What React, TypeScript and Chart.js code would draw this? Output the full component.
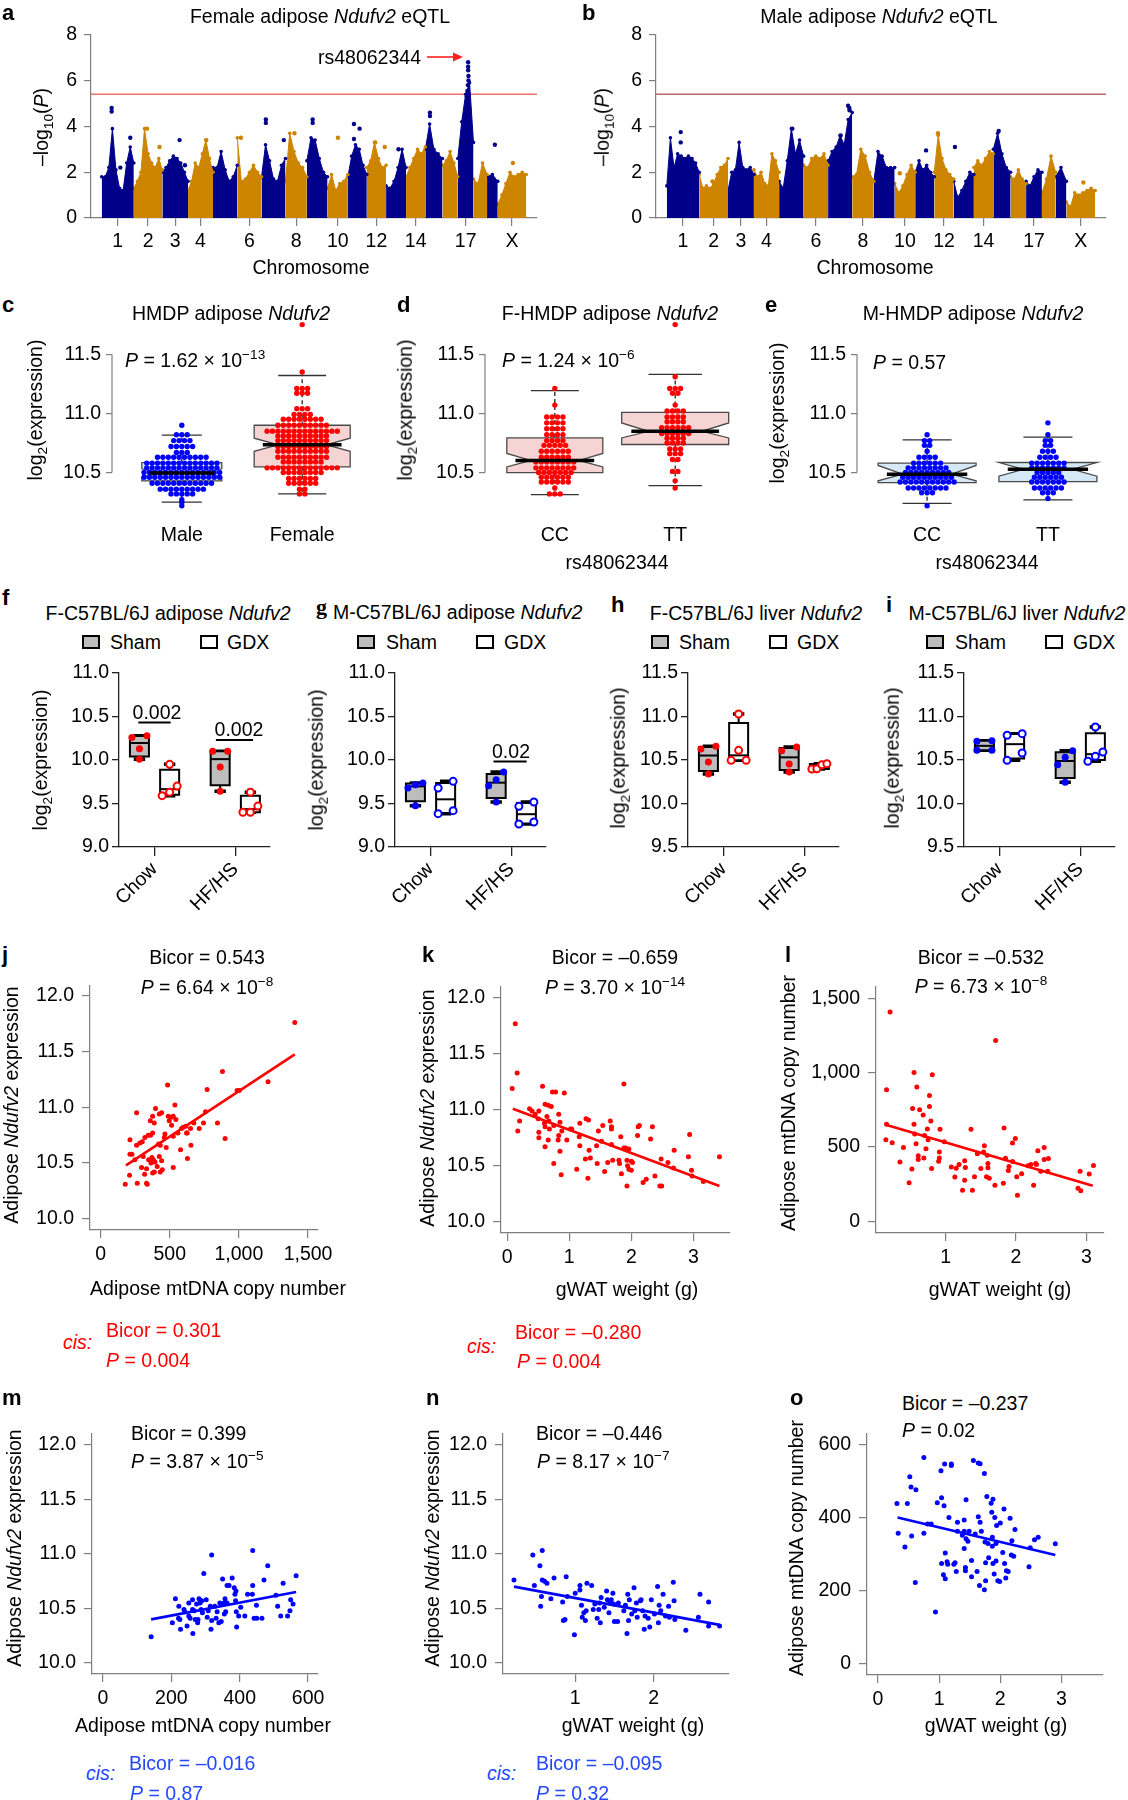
import React, { useEffect, useRef } from 'react';
import { Chart, registerables } from 'chart.js';

Chart.register(...registerables);

const FONT = '"Liberation Sans", Arial, Helvetica, sans-serif';
const SERIF = '"Liberation Serif", "Times New Roman", serif';
const FS = 19.5;
const NAVY = '#00008b';
const GOLD = '#cd8500';
const RED = '#ff0000';
const BLUE = '#0000ff';
const CIS_BLUE = '#2448ff';
const GREY_AX = '#7f7f7f';
const DARK_AX = '#222222';

// ================= a / b : eQTL Manhattan =================
const chromosomes = ['1', '2', '3', '4', '5', '6', '7', '8', '9', '10', '11', '12', '13', '14', '15', '16', '17', '18', '19', 'X'];
const chrSpan = [90, 80, 72, 70, 68, 68, 67, 60, 58, 57, 53, 54, 56, 54, 48, 43, 44, 38, 30, 80];
const chrLabelled = ['1', '2', '3', '4', '6', '8', '10', '12', '14', '17', 'X'];
const eqtlYTicks = [0, 2, 4, 6, 8];
const eqtlThreshold = 5.4;

const femaleEnvelope = [
  [1.8, 1.8, 2.2, 3.9, 2.1, 1.3, 1.2, 2.4, 3.1, 2.4],
  [1.3, 1.6, 2.0, 3.9, 2.8, 2.4, 2.2, 2.6, 2.1],
  [2.0, 2.2, 2.5, 2.7, 2.6, 2.4, 2.0, 1.6],
  [1.2, 1.6, 2.4, 2.2, 2.8, 3.4, 2.6, 2.0],
  [2.2, 2.2, 2.9, 2.1, 1.6, 1.8, 2.3],
  [3.5, 1.6, 1.7, 2.0, 2.3, 2.0, 1.8],
  [1.8, 3.2, 2.5, 1.7, 1.6, 2.3, 2.6],
  [1.6, 3.7, 2.9, 2.4, 2.2, 1.8],
  [2.5, 3.5, 3.4, 2.6, 2.0, 1.8],
  [1.3, 1.9, 1.2, 1.5, 1.6, 1.9],
  [1.8, 2.7, 3.2, 3.0, 2.3, 1.9],
  [2.2, 2.5, 3.3, 2.6, 2.2, 2.3],
  [1.4, 1.3, 1.6, 2.2, 3.0, 2.2],
  [1.8, 2.2, 2.6, 3.0, 2.8, 3.1],
  [3.0, 4.1, 3.0, 2.8, 2.6],
  [2.3, 2.5, 2.9, 2.4, 1.8],
  [2.6, 4.2, 5.4, 5.9, 3.3],
  [1.7, 1.5, 2.4, 1.9],
  [1.8, 1.9, 1.6],
  [0.6, 1.0, 1.5, 2.0, 1.8, 1.9, 2.0, 1.9],
];
// [chromosome index, position within chromosome (0-1), -log10 P]
const femaleSpikes = [
  [0, 0.31, 4.8], [0, 0.31, 4.65], [0, 0.58, 2.2], [0, 0.89, 3.5],
  [1, 0.46, 3.9], [1, 0.9, 3.1], [2, 0.67, 3.4], [2, 0.88, 2.3], [3, 0.73, 3.4],
  [5, 0.15, 3.5], [6, 0.18, 4.3], [6, 0.18, 4.15], [6, 0.93, 3.4], [7, 0.42, 3.7],
  [8, 0.28, 4.3], [8, 0.28, 4.15], [9, 0.51, 3.5], [10, 0.32, 4.1], [10, 0.62, 3.9],
  [10, 0.32, 3.45], [11, 0.44, 3.3], [11, 0.93, 3.1], [12, 0.62, 3.0],
  [14, 0.27, 4.6], [14, 0.27, 4.45],
  [16, 0.66, 6.8], [16, 0.66, 6.6], [16, 0.66, 6.45], [16, 0.68, 6.2], [16, 0.68, 6.0],
  [16, 0.64, 5.8], [16, 0.61, 5.55], [16, 0.57, 5.3],
  [18, 0.73, 3.2], [19, 0.53, 2.4],
];
const maleEnvelope = [
  [1.4, 3.5, 2.2, 2.8, 2.7, 2.6, 2.7, 2.6, 2.4, 2.0],
  [1.9, 1.3, 1.4, 1.3, 1.5, 1.9, 2.2, 2.3, 2.6],
  [1.2, 2.0, 2.1, 3.3, 2.2, 2.1, 2.2, 1.9],
  [2.1, 1.8, 2.0, 1.5, 1.4, 2.8, 2.5, 2.0],
  [1.6, 1.3, 2.5, 3.9, 2.8, 3.4, 2.7],
  [2.3, 2.2, 2.6, 2.7, 2.6, 2.8, 2.3],
  [2.5, 2.9, 3.1, 3.6, 3.2, 4.3, 4.6],
  [1.8, 1.9, 3.0, 2.7, 2.0, 1.6],
  [1.6, 2.9, 2.7, 2.2, 2.2, 2.2],
  [1.5, 1.1, 1.4, 1.9, 2.3, 2.0],
  [2.0, 2.5, 2.1, 2.3, 2.0, 1.8],
  [2.0, 3.6, 2.6, 2.1, 1.9, 1.7],
  [1.6, 0.9, 1.2, 1.6, 2.0, 1.9],
  [2.2, 2.5, 2.3, 2.6, 2.9, 2.8],
  [3.0, 3.7, 2.8, 2.2, 2.0],
  [1.8, 1.7, 2.1, 1.7, 1.5],
  [1.6, 1.4, 1.8, 2.1, 2.0],
  [1.1, 1.7, 2.7, 2.0],
  [1.8, 2.2, 1.6],
  [0.7, 0.5, 1.1, 1.0, 1.1, 1.2, 1.3, 1.2],
];
const maleSpikes = [
  [0, 0.43, 3.75], [0, 0.43, 3.3], [1, 0.46, 1.6], [4, 0.54, 3.9],
  [6, 0.83, 4.9], [6, 0.88, 4.8], [6, 0.89, 4.7], [6, 0.52, 3.6],
  [9, 0.25, 1.95], [10, 0.57, 2.95], [11, 0.19, 3.7], [12, 0.06, 3.1],
  [14, 0.31, 3.8], [19, 0.59, 1.55],
];

// ================= c / d / e : swarm box plots =================
// box stats: [lower whisker, Q1, notch low, median, notch high, Q3, upper whisker]
const exprTicks = [10.5, 11.0, 11.5];
const cLabels = ['Male', 'Female'];
const cMaleLevels = [10.90, 10.82, 10.77, 10.72, 10.67, 10.63, 10.58, 10.54, 10.50, 10.46, 10.41, 10.36, 10.32, 10.27, 10.25, 10.22];
const cMaleCounts = [1, 3, 4, 5, 3, 10, 14, 14, 15, 15, 12, 9, 5, 1, 1, 1];
const cFemaleLevels = [11.75, 11.35, 11.21, 11.17, 11.04, 10.99, 10.95, 10.90, 10.85, 10.81, 10.77, 10.72, 10.68, 10.63, 10.59, 10.54, 10.50, 10.45, 10.41, 10.36, 10.32];
const cFemaleCounts = [1, 1, 3, 3, 3, 4, 8, 10, 14, 10, 10, 10, 10, 10, 8, 14, 8, 6, 6, 2, 2];
const cMaleBox = [10.25, 10.43, 10.462, 10.497, 10.532, 10.584, 10.817];
const cFemaleBox = [10.32, 10.548, 10.68, 10.735, 10.79, 10.90, 11.32];

const genoLabels = ['CC', 'TT'];
const dCCLevels = [11.21, 11.07, 10.97, 10.92, 10.87, 10.82, 10.77, 10.73, 10.68, 10.63, 10.59, 10.54, 10.50, 10.46, 10.42, 10.37, 10.32];
const dCCCounts = [1, 1, 4, 4, 4, 4, 4, 5, 6, 6, 8, 8, 7, 6, 6, 1, 3];
const dTTLevels = [11.75, 11.31, 11.21, 11.17, 11.07, 11.02, 10.97, 10.93, 10.88, 10.83, 10.79, 10.75, 10.70, 10.66, 10.61, 10.51, 10.43, 10.37];
const dTTCounts = [1, 1, 3, 2, 1, 4, 4, 4, 6, 6, 4, 4, 3, 3, 2, 2, 1, 1];
const dCCBox = [10.313, 10.50, 10.548, 10.603, 10.662, 10.793, 11.193];
const dTTBox = [10.39, 10.737, 10.793, 10.849, 10.919, 11.008, 11.33];

const eCCLevels = [10.82, 10.77, 10.73, 10.68, 10.63, 10.58, 10.54, 10.50, 10.46, 10.42, 10.37, 10.33, 10.22];
const eCCCounts = [1, 2, 2, 1, 4, 6, 8, 9, 10, 11, 8, 3, 1];
const eTTLevels = [10.92, 10.82, 10.77, 10.73, 10.68, 10.63, 10.58, 10.54, 10.50, 10.46, 10.42, 10.37, 10.33, 10.28];
const eTTCounts = [1, 1, 2, 2, 3, 4, 7, 7, 5, 6, 7, 6, 3, 1];
const eCCBox = [10.24, 10.415, 10.43, 10.486, 10.56, 10.579, 10.776];
const eTTBox = [10.27, 10.424, 10.47, 10.528, 10.585, 10.585, 10.80];

// ================= f - i : Sham vs GDX =================
const dietLabels = ['Chow', 'HF/HS'];
const adiposeTicks = [9.0, 9.5, 10.0, 10.5, 11.0];
const liverTicks = [9.5, 10.0, 10.5, 11.0, 11.5];
const fChowSham = [10.01, 10.13, 10.26, 10.28];
const fChowGdx = [9.59, 9.63, 9.70, 9.95];
const fHfSham = [9.64, 9.92, 10.10, 10.10];
const fHfGdx = [9.40, 9.40, 9.47, 9.63];
const gChowSham = [9.475, 9.678, 9.716, 9.736];
const gChowGdx = [9.383, 9.418, 9.678, 9.755];
const gHfSham = [9.517, 9.705, 9.774, 9.862];
const gHfGdx = [9.264, 9.287, 9.467, 9.517];
const hChowSham = [10.339, 10.477, 10.626, 10.657];
const hChowGdx = [10.496, 10.496, 10.611, 11.029];
const hHfSham = [10.362, 10.454, 10.607, 10.649];
const hHfGdx = [10.397, 10.40, 10.446, 10.458];
const iChowSham = [10.611, 10.611, 10.715, 10.722];
const iChowGdx = [10.496, 10.58, 10.784, 10.803];
const iHfSham = [10.243, 10.446, 10.531, 10.607];
const iHfGdx = [10.485, 10.542, 10.592, 10.879];
// significance bars: [x from, x to, y]
const fSigBars = [[0.80, 1.20, 10.43], [1.76, 2.22, 10.23]];
const gSigBars = [[1.78, 2.19, 9.984]];

// ================= j - o : correlations =================
const exprTicksWide = [10.0, 10.5, 11.0, 11.5, 12.0];
const copyTicksJ = [0, 500, 1000, 1500];
const weightTicks = [0, 1, 2, 3];
const weightTicksL = [1, 2, 3];
const weightTicksN = [1, 2];
const copyTicksL = [0, 500, 1000, 1500];
const copyTicksM = [0, 200, 400, 600];

const jPoints = [[1404, 11.76], [881, 11.32], [1211, 11.23], [987, 11.15], [1002, 11.15], [770, 11.16], [484, 11.20], [537, 11.02], [260, 10.95], [397, 10.99], [424, 10.94], [441, 10.95], [376, 10.92], [359, 10.88], [388, 10.86], [489, 10.92], [508, 10.91], [525, 10.92], [544, 10.89], [496, 10.88], [513, 10.84], [758, 10.96], [744, 10.86], [845, 10.86], [674, 10.86], [616, 10.83], [585, 10.81], [597, 10.82], [650, 10.81], [713, 10.81], [621, 10.77], [559, 10.77], [525, 10.74], [465, 10.76], [460, 10.73], [376, 10.77], [361, 10.75], [344, 10.75], [320, 10.73], [301, 10.69], [284, 10.68], [260, 10.66], [212, 10.71], [900, 10.72], [653, 10.66], [578, 10.62], [626, 10.77], [419, 10.67], [431, 10.66], [474, 10.64], [212, 10.58], [226, 10.58], [248, 10.53], [308, 10.56], [371, 10.55], [381, 10.53], [347, 10.53], [393, 10.51], [364, 10.50], [424, 10.56], [441, 10.52], [628, 10.54], [296, 10.46], [332, 10.45], [409, 10.47], [525, 10.46], [209, 10.39], [318, 10.40], [376, 10.41], [388, 10.42], [431, 10.42], [446, 10.44], [178, 10.31], [265, 10.32], [332, 10.32], [337, 10.31]];
const jFit = [[183, 10.48], [1404, 11.475]];

const kPoints = [[0.13, 11.77], [0.16, 11.33], [0.08, 11.19], [0.57, 11.21], [0.73, 11.16], [0.78, 11.16], [0.92, 11.15], [1.88, 11.23], [0.17, 10.81], [0.20, 10.90], [0.36, 11.01], [0.40, 10.99], [0.45, 10.96], [0.50, 10.92], [0.51, 10.99], [0.61, 11.05], [0.66, 11.04], [0.71, 11.03], [0.64, 10.94], [0.67, 10.90], [0.60, 10.88], [0.61, 10.85], [0.68, 10.83], [0.75, 10.86], [0.83, 10.96], [0.85, 10.89], [0.51, 10.80], [0.51, 10.75], [0.66, 10.73], [0.61, 10.67], [0.75, 10.52], [0.82, 10.73], [0.83, 10.77], [0.88, 10.81], [0.96, 10.73], [0.85, 10.63], [0.87, 10.42], [1.02, 10.83], [1.04, 10.83], [1.17, 10.88], [1.16, 10.76], [1.17, 10.68], [1.12, 10.47], [1.27, 10.92], [1.31, 10.91], [1.32, 10.64], [1.26, 10.56], [1.34, 10.57], [1.30, 10.39], [1.44, 10.68], [1.45, 10.52], [1.47, 10.81], [1.54, 10.86], [1.52, 10.72], [1.57, 10.45], [1.62, 10.53], [1.66, 10.90], [1.68, 10.85], [1.68, 10.83], [1.68, 10.69], [1.70, 10.55], [1.80, 10.55], [1.81, 10.52], [1.83, 10.76], [1.84, 10.43], [1.88, 10.66], [1.91, 10.66], [1.96, 10.65], [1.93, 10.55], [1.94, 10.50], [1.93, 10.32], [1.96, 10.47], [2.00, 10.46], [2.00, 10.54], [2.02, 10.53], [2.10, 10.77], [2.11, 10.85], [2.13, 10.86], [2.31, 10.74], [2.34, 10.85], [2.19, 10.35], [2.24, 10.38], [2.38, 10.41], [2.46, 10.32], [2.49, 10.32], [2.48, 10.56], [2.59, 10.53], [2.68, 10.48], [2.69, 10.64], [2.92, 10.58], [2.94, 10.78], [2.97, 10.46], [2.98, 10.41], [3.16, 10.36], [3.42, 10.58]];
const kFit = [[0.09, 11.01], [3.42, 10.32]];

const lPoints = [[0.21, 1407], [1.71, 1215], [0.16, 885], [0.55, 1000], [0.81, 985], [0.59, 903], [0.77, 847], [0.77, 772], [0.53, 759], [0.63, 750], [0.68, 715], [0.79, 675], [0.16, 653], [0.55, 653], [0.92, 619], [0.74, 622], [1.36, 619], [1.83, 628], [0.56, 588], [0.70, 577], [0.75, 549], [0.98, 535], [0.15, 549], [0.24, 529], [0.58, 522], [0.72, 489], [0.40, 498], [0.91, 467], [0.91, 427], [0.90, 405], [0.61, 442], [0.61, 416], [0.69, 427], [0.35, 400], [0.52, 352], [0.80, 356], [0.48, 261], [1.08, 367], [1.15, 358], [1.19, 383], [1.27, 409], [1.28, 363], [1.13, 299], [1.27, 277], [1.24, 210], [1.38, 210], [1.41, 301], [1.45, 456], [1.50, 356], [1.55, 509], [1.54, 467], [1.59, 445], [1.60, 389], [1.60, 361], [1.58, 301], [1.62, 290], [1.70, 243], [1.82, 257], [1.85, 425], [1.89, 343], [1.90, 369], [1.95, 403], [1.95, 527], [1.99, 558], [2.01, 301], [2.02, 177], [2.08, 321], [2.17, 374], [2.21, 383], [2.25, 243], [2.28, 389], [2.29, 383], [2.31, 476], [2.35, 338], [2.40, 498], [2.40, 416], [2.46, 423], [2.45, 338], [2.88, 223], [2.92, 206], [2.91, 338], [3.04, 319], [3.10, 376]];
const lFit = [[0.16, 648], [3.09, 241]];

const mPoints = [[141, 10.24], [212, 10.59], [203, 10.37], [222, 10.52], [221, 10.41], [225, 10.40], [227, 10.31], [237, 10.49], [239, 10.47], [246, 10.34], [251, 10.55], [251, 10.43], [255, 10.41], [262, 10.58], [262, 10.49], [263, 10.27], [267, 10.48], [270, 10.40], [274, 10.54], [277, 10.37], [278, 10.40], [281, 10.59], [284, 10.55], [287, 10.49], [289, 10.57], [291, 10.46], [295, 10.82], [302, 10.58], [305, 10.42], [308, 10.48], [314, 10.52], [316, 10.31], [318, 10.99], [318, 10.39], [327, 10.52], [331, 10.41], [334, 10.47], [339, 10.37], [342, 10.55], [346, 10.38], [350, 10.77], [354, 10.55], [355, 10.45], [357, 10.59], [359, 10.47], [363, 10.71], [363, 10.55], [369, 10.71], [378, 10.78], [384, 10.69], [386, 10.63], [389, 10.66], [388, 10.57], [390, 10.47], [391, 10.33], [397, 10.43], [403, 10.51], [415, 10.43], [423, 10.63], [437, 10.63], [438, 11.03], [438, 10.71], [442, 10.41], [449, 10.53], [450, 10.41], [465, 10.41], [471, 10.76], [482, 10.89], [506, 10.62], [511, 10.52], [520, 10.43], [527, 10.73], [540, 10.43], [547, 10.48], [549, 10.58], [556, 10.54], [565, 10.80]];
const mFit = [[141, 10.40], [565, 10.65]];

const nPoints = [[0.22, 10.76], [0.46, 10.99], [0.58, 11.03], [0.55, 10.89], [0.48, 10.71], [0.58, 10.76], [0.61, 10.75], [0.64, 10.73], [0.73, 10.78], [0.57, 10.61], [0.56, 10.52], [0.69, 10.59], [0.84, 10.56], [0.85, 10.39], [0.885, 10.79], [0.90, 10.61], [0.87, 10.40], [0.99, 10.26], [1.00, 10.64], [1.06, 10.67], [1.06, 10.71], [1.08, 10.53], [1.11, 10.46], [1.13, 10.39], [1.15, 10.73], [1.21, 10.71], [1.09, 10.42], [1.14, 10.48], [1.23, 10.49], [1.25, 10.54], [1.28, 10.41], [1.30, 10.49], [1.31, 10.55], [1.32, 10.37], [1.33, 10.60], [1.37, 10.51], [1.40, 10.66], [1.41, 10.58], [1.43, 10.46], [1.44, 10.55], [1.46, 10.58], [1.48, 10.64], [1.49, 10.54], [1.50, 10.38], [1.54, 10.38], [1.55, 10.55], [1.62, 10.48], [1.64, 10.53], [1.66, 10.27], [1.67, 10.63], [1.68, 10.39], [1.69, 10.58], [1.72, 10.45], [1.75, 10.69], [1.76, 10.48], [1.78, 10.55], [1.79, 10.42], [1.83, 10.57], [1.84, 10.58], [1.86, 10.48], [1.88, 10.31], [1.89, 10.43], [1.93, 10.41], [1.95, 10.33], [1.97, 10.58], [2.01, 10.45], [2.05, 10.70], [2.06, 10.37], [2.07, 10.53], [2.09, 10.48], [2.12, 10.63], [2.15, 10.43], [2.19, 10.52], [2.20, 10.42], [2.25, 10.74], [2.26, 10.57], [2.27, 10.40], [2.41, 10.30], [2.57, 10.42], [2.59, 10.63], [2.70, 10.34], [2.70, 10.56], [2.84, 10.34]];
const nFit = [[0.22, 10.70], [2.84, 10.35]];

const oPoints = [[0.75, 564], [0.94, 141], [0.31, 438], [0.33, 357], [0.44, 319], [0.48, 438], [0.52, 511], [0.54, 483], [0.55, 349], [0.61, 222], [0.62, 476], [0.75, 357], [0.81, 382], [0.87, 382], [0.97, 440], [1.03, 528], [1.04, 454], [1.08, 432], [1.09, 546], [1.10, 303], [1.04, 274], [1.07, 243], [1.10, 232], [1.13, 279], [1.14, 272], [1.16, 400], [1.20, 546], [1.20, 542], [1.24, 272], [1.26, 276], [1.28, 252], [1.30, 387], [1.30, 362], [1.38, 351], [1.41, 362], [1.41, 315], [1.41, 393], [1.43, 263], [1.43, 254], [1.44, 448], [1.44, 342], [1.47, 335], [1.49, 362], [1.53, 238], [1.53, 282], [1.56, 556], [1.59, 355], [1.62, 252], [1.64, 549], [1.64, 402], [1.67, 547], [1.67, 387], [1.69, 362], [1.66, 214], [1.74, 520], [1.75, 333], [1.76, 276], [1.76, 227], [1.74, 202], [1.78, 457], [1.80, 329], [1.81, 290], [1.85, 439], [1.86, 414], [1.87, 346], [1.88, 450], [1.87, 321], [1.88, 274], [1.90, 245], [1.91, 400], [1.93, 281], [1.93, 329], [1.94, 378], [1.96, 227], [1.99, 225], [2.00, 385], [2.04, 304], [2.06, 423], [2.07, 274], [2.09, 234], [2.10, 254], [2.13, 252], [2.16, 398], [2.18, 297], [2.22, 294], [2.24, 367], [2.19, 336], [2.47, 265], [2.49, 317], [2.56, 339], [2.62, 346], [2.90, 328]];
const oFit = [[0.32, 400], [2.90, 297]];

// ================= helpers =================
const START: number[] = (() => { let s = 0; return chrSpan.map((w) => { const st = s; s += w; return st; }); })();
const TOTAL = chrSpan.reduce((a, b) => a + b, 0);

type Area = { l: number; t: number; r: number; b: number };

function mkScale(axis: string, o: any) {
  const col = o.color || GREY_AX;
  return {
    type: 'linear',
    min: o.min,
    max: o.max,
    afterBuildTicks: (s: any) => { s.ticks = o.ticks.map((v: number) => ({ value: v })); },
    afterFit: (s: any) => { if (axis === 'y') s.width = o.fit; else s.height = o.fit; },
    grid: { display: o.tl > 0, drawOnChartArea: false, drawTicks: o.tl > 0, tickLength: o.tl, color: col, lineWidth: o.lw || 1.2 },
    border: { display: !!o.border, color: col, width: o.lw || 1.2 },
    ticks: {
      autoSkip: false,
      padding: o.pad,
      color: '#000',
      maxRotation: o.rot || 0,
      minRotation: o.rot || 0,
      font: { family: FONT, size: FS },
      callback: (v: number, i: number) => (o.labels ? o.labels[i] : o.fmt ? o.fmt(v) : String(v)),
    },
  };
}

function baseCfg(datasets: any[], xs: any, ys: any, mt: number, mr: number, plugins: any[] = []) {
  return {
    type: 'line',
    data: { datasets },
    options: {
      responsive: false,
      animation: false,
      events: [],
      devicePixelRatio: 1,
      layout: { padding: { left: 0, top: mt, right: mr, bottom: 0 } },
      plugins: { legend: { display: false }, tooltip: { enabled: false }, title: { display: false } },
      scales: { x: xs, y: ys },
    },
    plugins,
  };
}

function boxPlugin(items: any[]) {
  return {
    id: 'boxes',
    beforeDatasetsDraw(chart: any) {
      const { ctx } = chart;
      const xs = chart.scales.x;
      const ys = chart.scales.y;
      ctx.save();
      for (const b of items) {
        const cx = xs.getPixelForValue(b.x);
        const hw = b.wpx / 2;
        const [lo, q1, nlo, med, nhi, q3, hi] = b.stats.map((v: number) => ys.getPixelForValue(v));
        ctx.strokeStyle = b.whiskColor;
        ctx.lineWidth = b.whiskLw;
        ctx.setLineDash(b.dash || []);
        ctx.beginPath();
        ctx.moveTo(cx, q3); ctx.lineTo(cx, hi);
        ctx.moveTo(cx, q1); ctx.lineTo(cx, lo);
        ctx.stroke();
        ctx.setLineDash([]);
        ctx.strokeStyle = b.capColor;
        ctx.lineWidth = b.capLw;
        const cw = b.wpx * b.capFrac / 2;
        ctx.beginPath();
        ctx.moveTo(cx - cw, hi); ctx.lineTo(cx + cw, hi);
        ctx.moveTo(cx - cw, lo); ctx.lineTo(cx + cw, lo);
        ctx.stroke();
        ctx.beginPath();
        if (b.notch) {
          const ni = hw / 2;
          ctx.moveTo(cx - hw, q1); ctx.lineTo(cx - hw, nlo); ctx.lineTo(cx - hw + ni, med); ctx.lineTo(cx - hw, nhi); ctx.lineTo(cx - hw, q3);
          ctx.lineTo(cx + hw, q3); ctx.lineTo(cx + hw, nhi); ctx.lineTo(cx + hw - ni, med); ctx.lineTo(cx + hw, nlo); ctx.lineTo(cx + hw, q1);
          ctx.closePath();
        } else {
          ctx.rect(cx - hw, q3, 2 * hw, q1 - q3);
        }
        ctx.fillStyle = b.fill;
        ctx.fill();
        ctx.strokeStyle = b.stroke;
        ctx.lineWidth = b.lw;
        ctx.stroke();
        if (!b.medAfter) {
          ctx.strokeStyle = '#000';
          ctx.lineWidth = b.medLw;
          ctx.beginPath();
          ctx.moveTo(cx - hw * b.medFrac, med); ctx.lineTo(cx + hw * b.medFrac, med);
          ctx.stroke();
        }
      }
      ctx.restore();
    },
    afterDatasetsDraw(chart: any) {
      const { ctx } = chart;
      const xs = chart.scales.x;
      const ys = chart.scales.y;
      ctx.save();
      for (const b of items) {
        if (!b.medAfter) continue;
        const cx = xs.getPixelForValue(b.x);
        const hw = b.wpx / 2;
        const med = ys.getPixelForValue(b.stats[3]);
        ctx.strokeStyle = '#000';
        ctx.lineWidth = b.medLw;
        ctx.beginPath();
        ctx.moveTo(cx - hw * b.medFrac, med); ctx.lineTo(cx + hw * b.medFrac, med);
        ctx.stroke();
      }
      ctx.restore();
    },
  };
}

function ySpanPlugin(from: number, to: number, color: string) {
  return {
    id: 'yspan',
    afterDraw(chart: any) {
      const { ctx, chartArea } = chart;
      const ys = chart.scales.y;
      ctx.save();
      ctx.strokeStyle = color;
      ctx.lineWidth = 1.2;
      ctx.beginPath();
      ctx.moveTo(chartArea.left, ys.getPixelForValue(from));
      ctx.lineTo(chartArea.left, ys.getPixelForValue(to));
      ctx.stroke();
      ctx.restore();
    },
  };
}

function quartiles(vals: number[]) {
  const s = [...vals].sort((a, b) => a - b);
  const n = s.length;
  const q = (p: number) => {
    const pos = (n + 1) * p;
    const lo = Math.floor(pos);
    const fr = pos - lo;
    if (lo < 1) return s[0];
    if (lo >= n) return s[n - 1];
    return s[lo - 1] + fr * (s[lo] - s[lo - 1]);
  };
  const m = q(0.5);
  return [s[0], q(0.25), m, m, m, q(0.75), s[n - 1]];
}

function clusterOffsets(vals: number[], pxPerY: number) {
  const idx = vals.map((_, i) => i).sort((a, b) => vals[a] - vals[b]);
  const out = new Array(vals.length).fill(0);
  let group = [idx[0]];
  const flush = () => {
    const k = group.length;
    group.forEach((gi, j) => { out[gi] = k === 1 ? 0 : (j - (k - 1) / 2) * (15 / (k - 1)); });
  };
  for (let t = 1; t < idx.length; t++) {
    if ((vals[idx[t]] - vals[idx[t - 1]]) * pxPerY < 8) group.push(idx[t]);
    else { flush(); group = [idx[t]]; }
  }
  flush();
  return out;
}

// ================= chart builders =================
function manhattanCfg(env: number[][], spikes: number[][], thrColor: string, ml: number, mt: number, mr: number, mb: number) {
  const ds: any[] = [];
  env.forEach((vals, c) => {
    const col = c % 2 ? GOLD : NAVY;
    ds.push({
      data: vals.map((v, i) => ({ x: START[c] + (chrSpan[c] * i) / (vals.length - 1), y: v })),
      borderColor: col, backgroundColor: col, borderWidth: 1, fill: 'origin',
      pointRadius: 1.8, pointBackgroundColor: col, pointBorderWidth: 0, order: 3,
    });
  });
  const sp = (par: number) => spikes.filter((s) => s[0] % 2 === par).map((s) => ({ x: START[s[0]] + chrSpan[s[0]] * s[1], y: s[2] }));
  ds.push({ data: sp(0), showLine: false, pointRadius: 2.2, pointBackgroundColor: NAVY, pointBorderWidth: 0, borderColor: NAVY, order: 1, clip: false });
  ds.push({ data: sp(1), showLine: false, pointRadius: 2.2, pointBackgroundColor: GOLD, pointBorderWidth: 0, borderColor: GOLD, order: 1, clip: false });
  ds.push({ data: [{ x: -30, y: eqtlThreshold }, { x: TOTAL + 30, y: eqtlThreshold }], borderColor: thrColor, borderWidth: 1.5, pointRadius: 0, order: 5 });
  const tickVals = chrLabelled.map((nm) => { const c = chromosomes.indexOf(nm); return START[c] + chrSpan[c] / 2; });
  const xs = mkScale('x', { min: -30, max: TOTAL + 30, ticks: tickVals, labels: chrLabelled, fit: mb, tl: 8, pad: 4, border: true });
  const ys = mkScale('y', { min: 0, max: 8, ticks: eqtlYTicks, fit: ml, tl: 7, pad: 7, border: true });
  return baseCfg(ds, xs, ys, mt, mr);
}

function swarmCfg(groups: any[], labels: string[], area: Area, ml: number, mt: number, mr: number, mb: number) {
  const xmin = 0.42, xmax = 2.58;
  const pxX = (area.r - area.l) / (xmax - xmin);
  const GAP = 5.4;
  const ds = groups.map((g, gi) => {
    const pts: any[] = [];
    g.levels.forEach((lv: number, r: number) => {
      const n = g.counts[r];
      for (let j = 0; j < n; j++) pts.push({ x: gi + 1 + ((j - (n - 1) / 2) * GAP) / pxX, y: lv });
    });
    return { data: pts, showLine: false, pointRadius: 2.7, pointBackgroundColor: g.color, pointBorderWidth: 0, borderColor: g.color, clip: false };
  });
  const items = groups.map((g, gi) => ({
    x: gi + 1, wpx: g.wpx, stats: g.box, fill: g.fill, stroke: '#4a4a4a', lw: 1.3, notch: true,
    whiskColor: '#111', whiskLw: 1.2, dash: [4, 3], capColor: '#333', capLw: 1.3, capFrac: 0.5,
    medLw: 3.5, medFrac: 0.82, medAfter: true,
  }));
  const xs = mkScale('x', { min: xmin, max: xmax, ticks: [1, 2], labels, fit: mb, tl: 0, pad: 10, border: false });
  const ys = mkScale('y', { min: 10.15, max: 11.8, ticks: exprTicks, fmt: (v: number) => v.toFixed(1), fit: ml, tl: 6, pad: 5, border: false });
  return baseCfg(ds, xs, ys, mt, mr, [boxPlugin(items), ySpanPlugin(10.5, 11.5, GREY_AX)]);
}

function gdxCfg(sets: number[][], color: string, yr: number[], yticks: number[], sig: number[][], area: Area, ml: number, mt: number, mr: number, mb: number) {
  const xmin = 0.56, xmax = 2.43;
  const pxX = (area.r - area.l) / (xmax - xmin);
  const pxY = (area.b - area.t) / (yr[1] - yr[0]);
  const centers = [1 - 0.187, 1 + 0.187, 2 - 0.187, 2 + 0.187];
  const ds: any[] = [];
  const items: any[] = [];
  sets.forEach((vals, k) => {
    const sham = k % 2 === 0;
    const offs = clusterOffsets(vals, pxY);
    ds.push({
      data: vals.map((v, i) => ({ x: centers[k] + offs[i] / pxX, y: v })),
      showLine: false, pointRadius: 3.5, pointBackgroundColor: sham ? color : '#ffffff', pointBorderColor: color,
      pointBorderWidth: sham ? 0 : 2, borderColor: color, clip: false,
    });
    items.push({
      x: centers[k], wpx: 19, stats: quartiles(vals), fill: sham ? '#bdbdbd' : '#ffffff', stroke: '#000', lw: 2, notch: false,
      whiskColor: '#000', whiskLw: 2, capColor: '#000', capLw: 3.5, capFrac: 0.6, medLw: 2, medFrac: 1, medAfter: false,
    });
  });
  sig.forEach((s) => {
    ds.push({ data: [{ x: s[0], y: s[2] }, { x: s[1], y: s[2] }], borderColor: '#000', borderWidth: 2, pointRadius: 0, clip: false });
  });
  const xs = mkScale('x', { min: xmin, max: xmax, ticks: [1, 2], labels: dietLabels, fit: mb, tl: 9, pad: 2, border: true, rot: 45, color: DARK_AX, lw: 1.3 });
  const ys = mkScale('y', { min: yr[0], max: yr[1], ticks: yticks, fmt: (v: number) => v.toFixed(1), fit: ml, tl: 7, pad: 3, border: true, color: DARK_AX, lw: 1.3 });
  return baseCfg(ds, xs, ys, mt, mr, [boxPlugin(items)]);
}

function scatterCfg(points: number[][], fit: number[][], color: string, xr: number[], yr: number[], xt: number[], yt: number[], xfmt: any, yfmt: any, ml: number, mt: number, mr: number, mb: number) {
  const ds = [
    { data: points.map((p) => ({ x: p[0], y: p[1] })), showLine: false, pointRadius: 2.5, pointBackgroundColor: color, pointBorderWidth: 0, borderColor: color, clip: false },
    { data: fit.map((p) => ({ x: p[0], y: p[1] })), borderColor: color, borderWidth: 2.6, pointRadius: 0 },
  ];
  const xs = mkScale('x', { min: xr[0], max: xr[1], ticks: xt, fmt: xfmt, fit: mb, tl: 8, pad: 5, border: true });
  const ys = mkScale('y', { min: yr[0], max: yr[1], ticks: yt, fmt: yfmt, fit: ml, tl: 8, pad: 8, border: true });
  return baseCfg(ds, xs, ys, mt, mr);
}

// ================= components =================
function ChartCanvas({ area, ml = 70, mt = 16, mr = 30, mb = 50, make }: any) {
  const ref = useRef<HTMLCanvasElement>(null);
  const w = Math.round(area.r - area.l + ml + mr);
  const h = Math.round(area.b - area.t + mt + mb);
  useEffect(() => {
    const chart = new Chart(ref.current as HTMLCanvasElement, make(ml, mt, mr, mb) as any);
    return () => chart.destroy();
  }, []);
  return <canvas ref={ref} width={w} height={h} style={{ position: 'absolute', left: area.l - ml, top: area.t - mt, width: w, height: h }} />;
}

const T = ({ x, y, a = 'c', s = FS, b = false, c = '#000', rot = false, f = FONT, it = false, children }: any) => {
  const tx = a === 'l' ? '0' : a === 'r' ? '-100%' : '-50%';
  return (
    <div style={{ position: 'absolute', left: x, top: y, transform: `translate(${tx},-50%)${rot ? ' rotate(-90deg)' : ''}`, fontFamily: f, fontSize: s, fontWeight: b ? 'bold' : 'normal', fontStyle: it ? 'italic' : 'normal', color: c, whiteSpace: 'nowrap', lineHeight: 1.15 }}>
      {children}
    </div>
  );
};
const Sup = ({ children }: any) => <span style={{ fontSize: '0.7em', position: 'relative', top: '-0.6em', lineHeight: 0 }}>{children}</span>;
const Sub = ({ children }: any) => <span style={{ fontSize: '0.7em', position: 'relative', top: '0.35em', lineHeight: 0 }}>{children}</span>;
const Swatch = ({ x, y, fill }: any) => (
  <div style={{ position: 'absolute', left: x, top: y - 7, width: 18, height: 14, background: fill, border: '2px solid #000', boxSizing: 'border-box' }} />
);
const Legend = ({ sx, gx, st, gt }: any) => (
  <>
    <Swatch x={sx} y={642} fill="#bdbdbd" />
    <T x={st} y={642} a="l">Sham</T>
    <Swatch x={gx} y={642} fill="#ffffff" />
    <T x={gt} y={642} a="l">GDX</T>
  </>
);
const L = ({ x, y, children, f = FONT }: any) => <T x={x} y={y} a="l" b s={22} f={f}>{children}</T>;

// ================= layout (plot areas in page px) =================
const A: Record<string, Area> = {
  a: { l: 91, t: 32, r: 537, b: 218 },
  b: { l: 656, t: 32, r: 1106, b: 218 },
  c: { l: 112, t: 318, r: 372, b: 514 },
  d: { l: 485, t: 318, r: 745, b: 514 },
  e: { l: 857, t: 318, r: 1118, b: 514 },
  f: { l: 119, t: 673, r: 270, b: 847 },
  g: { l: 395, t: 673, r: 546, b: 847 },
  h: { l: 688, t: 673, r: 839, b: 847 },
  i: { l: 964, t: 673, r: 1115, b: 847 },
  j: { l: 90, t: 982, r: 318, b: 1230 },
  k: { l: 501, t: 983, r: 730, b: 1233 },
  l: { l: 876, t: 983, r: 1104, b: 1233 },
  m: { l: 92, t: 1430, r: 318, b: 1674 },
  n: { l: 503, t: 1430, r: 729, b: 1674 },
  o: { l: 867, t: 1430, r: 1103, b: 1675 },
};

const fmt1 = (v: number) => v.toFixed(1);
const fmtInt = (v: number) => String(v);
const fmtComma = (v: number) => v.toLocaleString('en-US');

const Nd = () => <i>Ndufv2</i>;
const MINUS = '\u2013';

export default function App() {
  useEffect(() => { document.body.style.margin = '0'; }, []);
  return (
    <div style={{ position: 'absolute', left: 0, top: 0, width: 1128, height: 1800, overflow: 'hidden', background: '#fff', fontFamily: FONT }}>
      {/* a, b */}
      <ChartCanvas area={A.a} ml={80} make={(ml: number, mt: number, mr: number, mb: number) => manhattanCfg(femaleEnvelope, femaleSpikes, '#f07070', ml, mt, mr, mb)} />
      <ChartCanvas area={A.b} ml={80} make={(ml: number, mt: number, mr: number, mb: number) => manhattanCfg(maleEnvelope, maleSpikes, '#b86a6a', ml, mt, mr, mb)} />
      {/* c, d, e */}
      <ChartCanvas area={A.c} make={(ml: number, mt: number, mr: number, mb: number) => swarmCfg([
        { levels: cMaleLevels, counts: cMaleCounts, box: cMaleBox, wpx: 80, fill: '#d6e8f5', color: BLUE },
        { levels: cFemaleLevels, counts: cFemaleCounts, box: cFemaleBox, wpx: 96, fill: '#f7d4d4', color: RED },
      ], cLabels, A.c, ml, mt, mr, mb)} />
      <ChartCanvas area={A.d} make={(ml: number, mt: number, mr: number, mb: number) => swarmCfg([
        { levels: dCCLevels, counts: dCCCounts, box: dCCBox, wpx: 96, fill: '#f7d4d4', color: RED },
        { levels: dTTLevels, counts: dTTCounts, box: dTTBox, wpx: 107, fill: '#f7d4d4', color: RED },
      ], genoLabels, A.d, ml, mt, mr, mb)} />
      <ChartCanvas area={A.e} mr={8} make={(ml: number, mt: number, mr: number, mb: number) => swarmCfg([
        { levels: eCCLevels, counts: eCCCounts, box: eCCBox, wpx: 98, fill: '#d6e8f5', color: BLUE },
        { levels: eTTLevels, counts: eTTCounts, box: eTTBox, wpx: 98, fill: '#d6e8f5', color: BLUE },
      ], genoLabels, A.e, ml, mt, mr, mb)} />
      {/* f - i */}
      <ChartCanvas area={A.f} mb={70} make={(ml: number, mt: number, mr: number, mb: number) => gdxCfg([fChowSham, fChowGdx, fHfSham, fHfGdx], RED, [9, 11], adiposeTicks, fSigBars, A.f, ml, mt, mr, mb)} />
      <ChartCanvas area={A.g} mb={70} make={(ml: number, mt: number, mr: number, mb: number) => gdxCfg([gChowSham, gChowGdx, gHfSham, gHfGdx], BLUE, [9, 11], adiposeTicks, gSigBars, A.g, ml, mt, mr, mb)} />
      <ChartCanvas area={A.h} mb={70} make={(ml: number, mt: number, mr: number, mb: number) => gdxCfg([hChowSham, hChowGdx, hHfSham, hHfGdx], RED, [9.5, 11.5], liverTicks, [], A.h, ml, mt, mr, mb)} />
      <ChartCanvas area={A.i} mb={70} mr={10} make={(ml: number, mt: number, mr: number, mb: number) => gdxCfg([iChowSham, iChowGdx, iHfSham, iHfGdx], BLUE, [9.5, 11.5], liverTicks, [], A.i, ml, mt, mr, mb)} />
      {/* j - l */}
      <ChartCanvas area={A.j} make={(ml: number, mt: number, mr: number, mb: number) => scatterCfg(jPoints, jFit, RED, [-77, 1572], [9.9, 12.09], copyTicksJ, exprTicksWide, fmtComma, fmt1, ml, mt, mr, mb)} />
      <ChartCanvas area={A.k} make={(ml: number, mt: number, mr: number, mb: number) => scatterCfg(kPoints, kFit, RED, [-0.1, 3.59], [9.9, 12.1], weightTicks, exprTicksWide, fmtInt, fmt1, ml, mt, mr, mb)} />
      <ChartCanvas area={A.l} ml={80} mr={15} make={(ml: number, mt: number, mr: number, mb: number) => scatterCfg(lPoints, lFit, RED, [0.01, 3.25], [-77, 1577], weightTicksL, copyTicksL, fmtInt, fmtComma, ml, mt, mr, mb)} />
      {/* m - o */}
      <ChartCanvas area={A.m} make={(ml: number, mt: number, mr: number, mb: number) => scatterCfg(mPoints, mFit, BLUE, [-32, 629], [9.9, 12.1], copyTicksM, exprTicksWide, fmtInt, fmt1, ml, mt, mr, mb)} />
      <ChartCanvas area={A.n} make={(ml: number, mt: number, mr: number, mb: number) => scatterCfg(nPoints, nFit, BLUE, [0.08, 2.96], [9.9, 12.1], weightTicksN, exprTicksWide, fmtInt, fmt1, ml, mt, mr, mb)} />
      <ChartCanvas area={A.o} mr={15} make={(ml: number, mt: number, mr: number, mb: number) => scatterCfg(oPoints, oFit, BLUE, [-0.18, 3.68], [-31, 629], weightTicks, copyTicksM, fmtInt, fmtInt, ml, mt, mr, mb)} />

      {/* ---------- text: a, b ---------- */}
      <L x={2} y={13}>a</L>
      <T x={320} y={16}>Female adipose <Nd /> eQTL</T>
      <T x={41} y={127} rot>{MINUS}log<Sub>10</Sub>(<i>P</i>)</T>
      <T x={311} y={267}>Chromosome</T>
      <T x={318} y={57} a="l">rs48062344</T>
      <svg width={1128} height={80} style={{ position: 'absolute', left: 0, top: 0, pointerEvents: 'none' }}>
        <line x1={427} y1={57} x2={455} y2={57} stroke="#ff2020" strokeWidth={1.6} />
        <polygon points="453,52.5 463,57 453,61.5" fill="#ff2020" />
      </svg>
      <L x={582} y={13}>b</L>
      <T x={879} y={16}>Male adipose <Nd /> eQTL</T>
      <T x={602} y={127} rot>{MINUS}log<Sub>10</Sub>(<i>P</i>)</T>
      <T x={875} y={267}>Chromosome</T>

      {/* ---------- c, d, e ---------- */}
      <L x={2} y={305}>c</L>
      <T x={231} y={313}>HMDP adipose <Nd /></T>
      <T x={125} y={360} a="l"><i>P</i> = 1.62 × 10<Sup>−13</Sup></T>
      <T x={35} y={410} rot>log<Sub>2</Sub>(expression)</T>
      <L x={397} y={305}>d</L>
      <T x={610} y={313}>F-HMDP adipose <Nd /></T>
      <T x={502} y={360} a="l"><i>P</i> = 1.24 × 10<Sup>−6</Sup></T>
      <T x={405} y={410} rot>log<Sub>2</Sub>(expression)</T>
      <T x={617} y={562}>rs48062344</T>
      <L x={765} y={305}>e</L>
      <T x={973} y={313}>M-HMDP adipose <Nd /></T>
      <T x={873} y={362} a="l"><i>P</i> = 0.57</T>
      <T x={777} y={413} rot>log<Sub>2</Sub>(expression)</T>
      <T x={987} y={562}>rs48062344</T>

      {/* ---------- f - i ---------- */}
      <L x={2} y={598}>f</L>
      <T x={168} y={613}>F-C57BL/6J adipose <Nd /></T>
      <Legend sx={82} gx={200} st={110} gt={227} />
      <T x={40} y={760} rot>log<Sub>2</Sub>(expression)</T>
      <T x={157} y={712}>0.002</T>
      <T x={239} y={729}>0.002</T>
      <L x={316} y={607} f={SERIF}>g</L>
      <T x={333} y={612} a="l">M-C57BL/6J adipose <Nd /></T>
      <Legend sx={357} gx={476} st={386} gt={504} />
      <T x={316} y={760} rot>log<Sub>2</Sub>(expression)</T>
      <T x={511} y={751}>0.02</T>
      <L x={611} y={605}>h</L>
      <T x={756} y={613}>F-C57BL/6J liver <Nd /></T>
      <Legend sx={651} gx={769} st={679} gt={797} />
      <T x={618} y={758} rot>log<Sub>2</Sub>(expression)</T>
      <L x={886} y={605}>i</L>
      <T x={1017} y={613}>M-C57BL/6J liver <Nd /></T>
      <Legend sx={926} gx={1045} st={955} gt={1073} />
      <T x={892} y={758} rot>log<Sub>2</Sub>(expression)</T>

      {/* ---------- j, k, l ---------- */}
      <L x={2} y={955}>j</L>
      <T x={207} y={957}>Bicor = 0.543</T>
      <T x={207} y={987}><i>P</i> = 6.64 × 10<Sup>−8</Sup></T>
      <T x={218} y={1288}>Adipose mtDNA copy number</T>
      <T x={11} y={1105} rot>Adipose <Nd /> expression</T>
      <T x={63} y={1342} a="l" c={RED} it>cis:</T>
      <T x={106} y={1330} a="l" c={RED}>Bicor = 0.301</T>
      <T x={106} y={1360} a="l" c={RED}><i>P</i> = 0.004</T>
      <L x={422} y={955}>k</L>
      <T x={615} y={957}>Bicor = {MINUS}0.659</T>
      <T x={615} y={987}><i>P</i> = 3.70 × 10<Sup>−14</Sup></T>
      <T x={627} y={1289}>gWAT weight (g)</T>
      <T x={427} y={1108} rot>Adipose <Nd /> expression</T>
      <T x={467} y={1346} a="l" c={RED} it>cis:</T>
      <T x={515} y={1332} a="l" c={RED}>Bicor = {MINUS}0.280</T>
      <T x={517} y={1361} a="l" c={RED}><i>P</i> = 0.004</T>
      <L x={785} y={955}>l</L>
      <T x={981} y={957}>Bicor = {MINUS}0.532</T>
      <T x={981} y={986}><i>P</i> = 6.73 × 10<Sup>−8</Sup></T>
      <T x={1000} y={1289}>gWAT weight (g)</T>
      <T x={788} y={1103} rot>Adipose mtDNA copy number</T>

      {/* ---------- m, n, o ---------- */}
      <L x={2} y={1398}>m</L>
      <T x={131} y={1433} a="l">Bicor = 0.399</T>
      <T x={131} y={1461} a="l"><i>P</i> = 3.87 × 10<Sup>−5</Sup></T>
      <T x={203} y={1725}>Adipose mtDNA copy number</T>
      <T x={14} y={1548} rot>Adipose <Nd /> expression</T>
      <T x={86} y={1773} a="l" c={CIS_BLUE} it>cis:</T>
      <T x={129} y={1763} a="l" c={CIS_BLUE}>Bicor = {MINUS}0.016</T>
      <T x={130} y={1793} a="l" c={CIS_BLUE}><i>P</i> = 0.87</T>
      <L x={426} y={1398}>n</L>
      <T x={536} y={1433} a="l">Bicor = {MINUS}0.446</T>
      <T x={537} y={1461} a="l"><i>P</i> = 8.17 × 10<Sup>−7</Sup></T>
      <T x={633} y={1725}>gWAT weight (g)</T>
      <T x={432} y={1548} rot>Adipose <Nd /> expression</T>
      <T x={487} y={1773} a="l" c={CIS_BLUE} it>cis:</T>
      <T x={536} y={1763} a="l" c={CIS_BLUE}>Bicor = {MINUS}0.095</T>
      <T x={536} y={1793} a="l" c={CIS_BLUE}><i>P</i> = 0.32</T>
      <L x={790} y={1398}>o</L>
      <T x={902} y={1403} a="l">Bicor = {MINUS}0.237</T>
      <T x={902} y={1430} a="l"><i>P</i> = 0.02</T>
      <T x={996} y={1725}>gWAT weight (g)</T>
      <T x={796} y={1548} rot>Adipose mtDNA copy number</T>
    </div>
  );
}
